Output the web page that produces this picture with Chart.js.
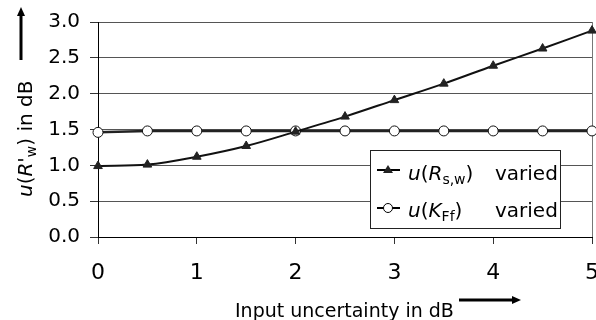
<!DOCTYPE html>
<html>
<head>
<meta charset="utf-8">
<script src="https://cdn.jsdelivr.net/npm/chart.js@4.4.1/dist/chart.umd.min.js"></script>
<style>
  html, body { margin: 0; padding: 0; background: #fff; overflow: hidden; }
  #wrap { width: 615px; height: 320px; }
</style>
</head>
<body>
<div id="wrap"><canvas id="uncChart" width="615" height="320"></canvas></div>
<script>
// input uncertainty (dB) on x axis
const inputUnc = [0, 0.5, 1, 1.5, 2, 2.5, 3, 3.5, 4, 4.5, 5];
// u(R'w) when u(Rs,w) is varied
const rswVaried = [0.99, 1.01, 1.12, 1.27, 1.47, 1.68, 1.91, 2.14, 2.39, 2.63, 2.88];
// u(R'w) when u(KFf) is varied
const kffVaried = [1.46, 1.48, 1.48, 1.48, 1.48, 1.48, 1.48, 1.48, 1.48, 1.48, 1.48];
const xTicks = [0, 1, 2, 3, 4, 5];
const yTicks = [0, 0.5, 1, 1.5, 2, 2.5, 3];

const FONT = '"DejaVu Sans", Arial, sans-serif';

// draw text made of pieces: {t: text, it: italic, sub: subscript}
function drawRich(ctx, segs, x, y, size) {
    let cx = x;
    segs.forEach(s => {
        const sz = s.sub ? Math.round(size * 0.7) : size;
        ctx.font = (s.it ? 'italic ' : '') + sz + 'px ' + FONT;
        ctx.fillText(s.t, cx, s.sub ? y + size * 0.22 : y);
        cx += ctx.measureText(s.t).width;
    });
    return cx;
}

function arrow(ctx, x1, y1, x2, y2) {
    const ang = Math.atan2(y2 - y1, x2 - x1);
    const hl = 9, hw = 4;
    ctx.strokeStyle = '#000';
    ctx.fillStyle = '#000';
    ctx.lineWidth = 3;
    ctx.beginPath();
    ctx.moveTo(x1, y1);
    ctx.lineTo(x2 - Math.cos(ang) * hl, y2 - Math.sin(ang) * hl);
    ctx.stroke();
    ctx.beginPath();
    ctx.moveTo(x2, y2);
    ctx.lineTo(x2 - Math.cos(ang) * hl - Math.sin(ang) * hw, y2 - Math.sin(ang) * hl + Math.cos(ang) * hw);
    ctx.lineTo(x2 - Math.cos(ang) * hl + Math.sin(ang) * hw, y2 - Math.sin(ang) * hl - Math.cos(ang) * hw);
    ctx.closePath();
    ctx.fill();
}

const extrasPlugin = {
    id: 'extras',
    afterDraw(chart) {
        const ctx = chart.ctx;
        ctx.save();
        ctx.fillStyle = '#000';
        ctx.textBaseline = 'alphabetic';
        ctx.textAlign = 'left';

        // x title + arrow
        ctx.font = '19px ' + FONT;
        ctx.fillText('Input uncertainty in dB', 235, 317);
        arrow(ctx, 459, 300, 521, 300);

        // y title (rotated) + arrow
        ctx.save();
        ctx.translate(32, 197);
        ctx.rotate(-Math.PI / 2);
        ctx.fillStyle = '#000';
        drawRich(ctx, [
            {t: 'u', it: true}, {t: '('}, {t: 'R', it: true}, {t: '\''},
            {t: 'w', sub: true}, {t: ')'}, {t: ' in dB'}
        ], 0, 0, 20);
        ctx.restore();
        arrow(ctx, 21, 60, 21, 7);

        // legend box
        const lx = 370, ly = 150, lw = 190, lh = 78;
        ctx.fillStyle = '#fff';
        ctx.fillRect(lx, ly, lw, lh);
        ctx.strokeStyle = '#222';
        ctx.lineWidth = 1;
        ctx.strokeRect(lx + 0.5, ly + 0.5, lw, lh);

        // entry 1: triangle
        ctx.strokeStyle = '#000';
        ctx.lineWidth = 2;
        ctx.beginPath(); ctx.moveTo(377, 170); ctx.lineTo(400, 170); ctx.stroke();
        ctx.fillStyle = '#222';
        ctx.beginPath();
        ctx.moveTo(388, 165); ctx.lineTo(393, 173); ctx.lineTo(383, 173); ctx.closePath();
        ctx.fill();
        ctx.fillStyle = '#000';
        drawRich(ctx, [
            {t: 'u', it: true}, {t: '('}, {t: 'R', it: true}, {t: 's,w', sub: true}, {t: ')'}
        ], 408, 180, 20);
        ctx.font = '20px ' + FONT;
        ctx.fillText('varied', 495, 180);

        // entry 2: circle
        ctx.strokeStyle = '#000';
        ctx.lineWidth = 2;
        ctx.beginPath(); ctx.moveTo(377, 208); ctx.lineTo(400, 208); ctx.stroke();
        ctx.fillStyle = '#fff';
        ctx.lineWidth = 1;
        ctx.beginPath(); ctx.arc(388, 208, 4.5, 0, Math.PI * 2); ctx.fill(); ctx.stroke();
        ctx.fillStyle = '#000';
        drawRich(ctx, [
            {t: 'u', it: true}, {t: '('}, {t: 'K', it: true}, {t: 'Ff', sub: true}, {t: ')'}
        ], 408, 217, 20);
        ctx.font = '20px ' + FONT;
        ctx.fillText('varied', 495, 217);

        ctx.restore();
    }
};

function initializeChart() {
    const ctx = document.getElementById('uncChart').getContext('2d');
    const toPts = ys => inputUnc.map((x, i) => ({x: x, y: ys[i]}));
    const data = {
        datasets: [{
            label: "u(Rs,w) varied",
            data: toPts(rswVaried),
            borderColor: '#111',
            borderWidth: 2,
            tension: 0.35,
            pointStyle: 'triangle',
            pointRadius: 5,
            pointBackgroundColor: '#222',
            pointBorderColor: '#222',
            pointBorderWidth: 1,
            clip: false
        }, {
            label: "u(KFf) varied",
            data: toPts(kffVaried),
            borderColor: '#222',
            borderWidth: 2.5,
            tension: 0,
            pointStyle: 'circle',
            pointRadius: 5,
            pointBackgroundColor: '#fff',
            pointBorderColor: '#111',
            pointBorderWidth: 1,
            clip: false
        }]
    };
    new Chart(ctx, {
        type: 'line',
        data: data,
        options: {
            responsive: false,
            animation: false,
            layout: { padding: { left: 0, top: 18, right: 0, bottom: 0 } },
            plugins: {
                legend: { display: false },
                tooltip: { enabled: false }
            },
            scales: {
                x: {
                    type: 'linear',
                    min: 0,
                    max: 5,
                    afterBuildTicks: s => { s.ticks = xTicks.map(v => ({value: v})); },
                    afterFit: s => { s.height = 83; },
                    grid: {
                        drawOnChartArea: true,
                        color: c => (c.tick && c.tick.value === 5) ? '#777' : 'rgba(0,0,0,0)',
                        tickColor: '#333',
                        tickLength: 7
                    },
                    border: { color: '#000', width: 1 },
                    ticks: {
                        color: '#000',
                        padding: 16,
                        maxRotation: 0,
                        font: { family: FONT, size: 22 }
                    }
                },
                y: {
                    min: 0,
                    max: 3,
                    afterBuildTicks: s => { s.ticks = yTicks.map(v => ({value: v})); },
                    afterFit: s => { s.width = 98; },
                    grid: {
                        color: '#555',
                        tickColor: '#333',
                        tickLength: 8
                    },
                    border: { color: '#000', width: 1 },
                    ticks: {
                        color: '#000',
                        padding: 10,
                        callback: v => v.toFixed(1),
                        font: { family: FONT, size: 20 }
                    }
                }
            }
        },
        plugins: [extrasPlugin]
    });
}

if (document.readyState === 'loading') {
    document.addEventListener('DOMContentLoaded', initializeChart);
} else {
    initializeChart();
}
</script>
</body>
</html>
